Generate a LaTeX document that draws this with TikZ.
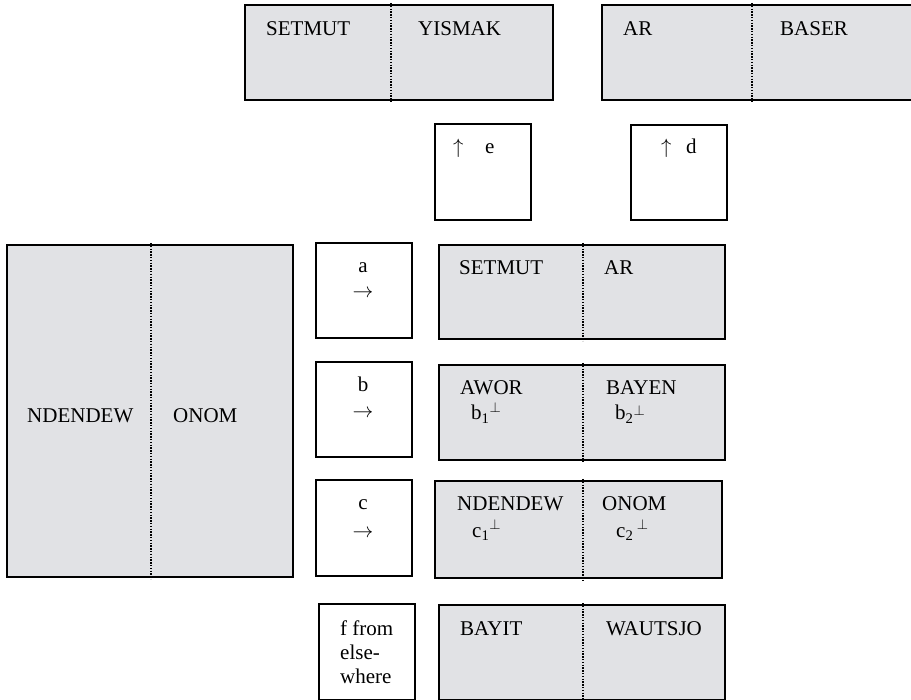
\documentclass[tikz,border=0pt]{standalone}
\usepackage{fontspec}
\setmainfont{Liberation Serif}
\definecolor{boxgray}{RGB}{225,226,229}
\tikzset{
  graybox/.style={draw=black, line width=1.4pt, fill=boxgray},
  whitebox/.style={draw=black, line width=1.4pt, fill=white},
  divline/.style={line width=2pt, dash pattern=on 1.4pt off 1.4pt},
  lbl/.style={anchor=base west, inner sep=0pt, font=\fontsize{21}{25}\selectfont},
  clbl/.style={anchor=base, inner sep=0pt, font=\fontsize{21}{25}\selectfont},
}
\begin{document}
\begin{tikzpicture}[x=1pt,y=-1pt]
\useasboundingbox (0,0) rectangle (911,700);
% gray two-part boxes
\foreach \nm/\xa/\ya/\xb/\yb/\xd in {tl/245/5/553/100/391, tr/602/5/913/100/752, big/7/245/293/577/151, ra/439/245/725/339/583, rb/439/365/725/460/583, rc/435/481/722/578/583, rf/439/605/725/700/583}{
  \draw[graybox] (\xa,\ya) rectangle (\xb,\yb);
  \coordinate (\nm-top) at (\xd,\ya-2);
  \coordinate (\nm-bot) at (\xd,\yb+2);
  \draw[divline] (\nm-top) -- (\nm-bot);
}
% white boxes
\foreach \nm/\xa/\ya/\xb/\yb in {ebox/435/124/531/220, dbox/631/125/727/220, abox/316/243/412/338, bbox/316/362/412/457, cbox/316/480/412/576, fbox/319/604/415/700}{
  \draw[whitebox] (\xa,\ya) rectangle (\xb,\yb);
}
% labels top
\node[lbl] (t1) at (266,36) {SETMUT};
\node[lbl] (t2) at (418,36) {YISMAK};
\node[lbl] (t3) at (623,36) {AR};
\node[lbl] (t4) at (780,36) {BASER};
\node[lbl] (e1) at (453,154) {$\uparrow$};
\node[lbl] (e2) at (485,154) {e};
\node[lbl] (d1) at (661,154) {$\uparrow$};
\node[lbl] (d2) at (686,154) {d};
% big box
\node[lbl] (g1) at (27,423) {NDENDEW};
\node[lbl] (g2) at (173,423) {ONOM};
% operator boxes
\node[clbl] (a1) at (363,273) {a};
\node[clbl] (a2) at (363,298) {$\rightarrow$};
\node[clbl] (b1) at (363,392) {b};
\node[clbl] (b2) at (363,418) {$\rightarrow$};
\node[clbl] (c1) at (363,510) {c};
\node[clbl] (c2) at (363,537) {$\rightarrow$};
\node[lbl] (f1) at (340,635) {f from};
\node[lbl] (f2) at (340,659) {else-};
\node[lbl] (f3) at (340,683) {where};
% rows
\node[lbl] (r1) at (459,275) {SETMUT};
\node[lbl] (r2) at (604,275) {AR};
\node[lbl] (r3) at (460,395) {AWOR};
\node[lbl] (r4) at (471,420) {b\textsubscript{1}\textsuperscript{$\perp$}};
\node[lbl] (r5) at (606,395) {BAYEN};
\node[lbl] (r6) at (615,420) {b\textsubscript{2}\raisebox{-0.3ex}{\textsuperscript{$\perp$}}};
\node[lbl] (r7) at (457,511) {NDENDEW};
\node[lbl] (r8) at (472,537) {c\textsubscript{1}\textsuperscript{$\perp$}};
\node[lbl] (r9) at (602,511) {ONOM};
\node[lbl] (r10) at (616,537) {c\textsubscript{2}\,\textsuperscript{$\perp$}};
\node[lbl] (r11) at (460,635) {BAYIT};
\node[lbl] (r12) at (606,635) {WAUTSJO};
\end{tikzpicture}
\end{document}
